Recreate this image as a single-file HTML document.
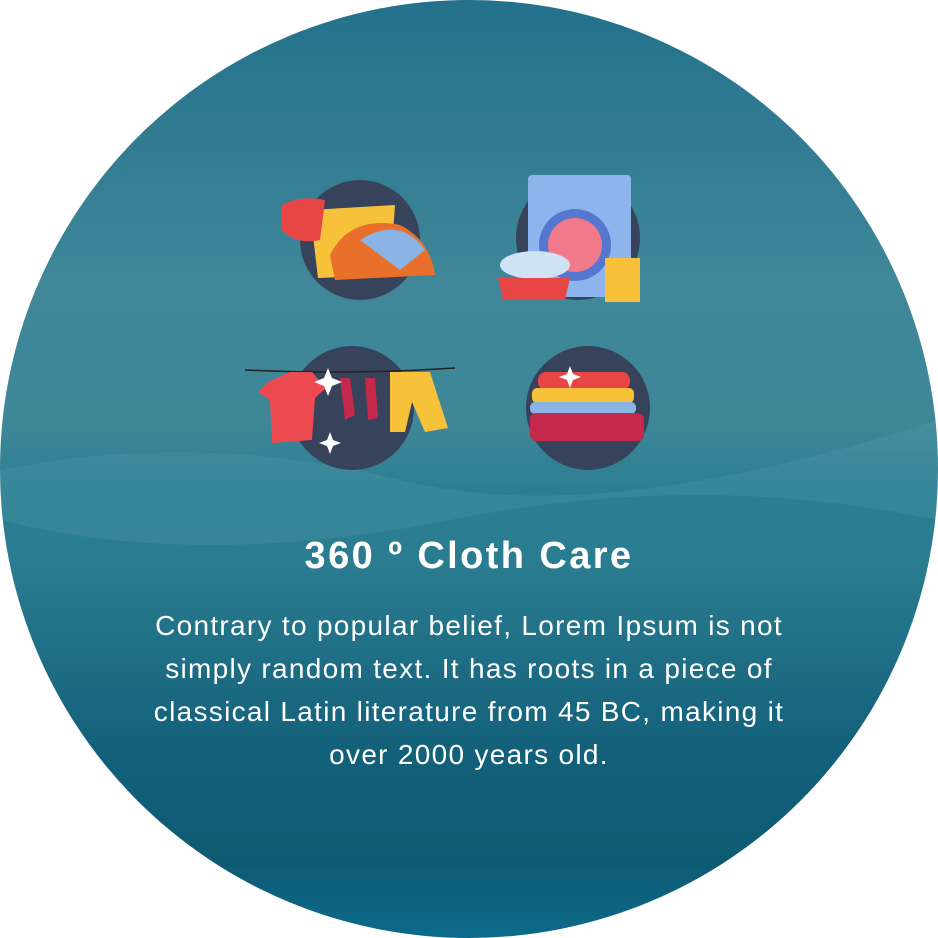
<!DOCTYPE html>
<html><head><meta charset="utf-8"><style>
html,body{margin:0;padding:0;background:#fff;width:938px;height:938px;overflow:hidden}
#c{position:absolute;left:0;top:0;width:938px;height:938px}
.t{position:absolute;left:0;width:938px;text-align:center;color:#fff;font-family:"Liberation Sans",sans-serif;white-space:nowrap}
</style></head><body>
<svg id="c" width="938" height="938" viewBox="0 0 938 938">
<defs>
<linearGradient id="bg" x1="0" y1="0" x2="0" y2="1">
<stop offset="0" stop-color="#23718c"/>
<stop offset="0.3" stop-color="#3f8799"/>
<stop offset="0.45" stop-color="#3e8797"/>
<stop offset="0.52" stop-color="#2c7f93"/>
<stop offset="0.6" stop-color="#2a7c90"/>
<stop offset="0.8" stop-color="#13607a"/>
<stop offset="0.92" stop-color="#0e5a73"/>
<stop offset="1" stop-color="#0b6b8a"/>
</linearGradient>
<clipPath id="cl"><circle cx="469" cy="469" r="469"/></clipPath>
</defs>
<circle cx="469" cy="469" r="469" fill="url(#bg)"/>
<g clip-path="url(#cl)" opacity="0.18">
<path d="M0 470 Q200 430 400 480 T938 420 L938 520 Q700 470 450 520 T0 520Z" fill="#6aaebe"/>
</g>
<g>
<circle cx="360" cy="240" r="60" fill="#36435a"/>
<path d="M310 210 L395 205 L390 275 L318 278Z" fill="#f7c23a"/>
<path d="M282 205 Q300 195 325 200 L320 240 Q295 245 282 230Z" fill="#e84545"/>
<path d="M330 255 Q350 215 400 225 Q430 240 435 275 L335 280Z" fill="#e8702a"/>
<path d="M360 240 Q400 215 425 250 L400 270Z" fill="#8bb4e6"/>
</g>
<g>
<circle cx="578" cy="238" r="62" fill="#36435a"/>
<rect x="528" y="175" width="103" height="122" rx="4" fill="#8eb4ee"/>
<circle cx="575" cy="245" r="36" fill="#5577d0"/>
<circle cx="575" cy="245" r="27" fill="#f07a8a"/>
<rect x="605" y="258" width="35" height="44" fill="#f7c23a"/>
<ellipse cx="535" cy="265" rx="35" ry="14" fill="#cfe3f5"/>
<path d="M498 278 L570 278 L565 300 L503 300Z" fill="#e84545"/>
</g>
<g>
<circle cx="352" cy="408" r="62" fill="#36435a"/>
<path d="M245 370 Q350 375 455 368" stroke="#222" stroke-width="1.5" fill="none"/>
<path d="M268 382 L290 372 L312 372 L326 388 L315 398 L312 440 L272 443 L270 400 L258 392Z" fill="#ec4a50"/>
<path d="M340 378 L350 378 L355 415 L345 420Z M365 378 L375 378 L378 418 L368 420Z" fill="#c4284a"/>
<path d="M390 372 L430 372 L448 428 L425 432 L412 402 L405 432 L390 432Z" fill="#f7c23a"/>
<path d="M328 368 l4 10 l10 4 l-10 4 l-4 10 l-4 -10 l-10 -4 l10 -4Z M330 432 l3 8 l8 3 l-8 3 l-3 8 l-3 -8 l-8 -3 l8 -3Z" fill="#fff"/>
</g>
<g>
<circle cx="588" cy="408" r="62" fill="#36435a"/>
<rect x="538" y="372" width="92" height="18" rx="8" fill="#e84545"/>
<rect x="532" y="388" width="102" height="15" rx="5" fill="#f7c23a"/>
<rect x="530" y="402" width="106" height="12" rx="5" fill="#8bb4e6"/>
<rect x="530" y="413" width="114" height="28" rx="6" fill="#c4284a"/>
<path d="M570 366 l3 8 l8 3 l-8 3 l-3 8 l-3 -8 l-8 -3 l8 -3Z" fill="#fff"/>
</g>
</svg>
<div class="t" style="top:531px;font-size:38px;font-weight:bold;line-height:50px;letter-spacing:2.4px">360 º Cloth Care</div>
<div class="t" style="top:604px;font-size:28px;line-height:43px;letter-spacing:1.3px">Contrary to popular belief, Lorem Ipsum is not<br>simply random text. It has roots in a piece of<br>classical Latin literature from 45 BC, making it<br>over 2000 years old.</div>
</body></html>
